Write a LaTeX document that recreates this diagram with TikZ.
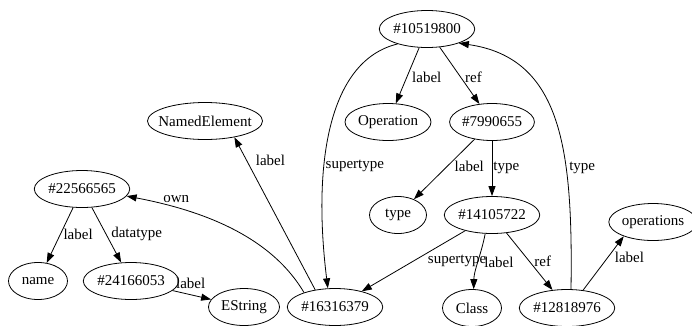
\documentclass[tikz,border=0pt]{standalone}
\usepackage{fontspec}
\setmainfont{Liberation Serif}
\usepackage{tikz}
\usetikzlibrary{arrows.meta,shapes.geometric}

\begin{document}
\begin{tikzpicture}[x=1pt,y=-1pt,line width=0.8pt,
		obj/.style={draw,ellipse,inner xsep=0pt,minimum height=37pt,font=\fontsize{15pt}{17pt}\selectfont},
		lbl/.style={font=\fontsize{15pt}{17pt}\selectfont,inner sep=2pt},
		>={Triangle[length=10pt,width=7pt]}]
		\useasboundingbox (0,0) rectangle (692,325);

		% objects
		\node[obj,minimum width=94pt] (n10519800) at (427,29) {\#10519800};
		\node[obj,minimum width=115pt,inner xsep=-6pt] (namedelement) at (205,121) {NamedElement};
		\node[obj,minimum width=86pt] (operation) at (388,122) {Operation};
		\node[obj,minimum width=83pt] (n7990655) at (492,122) {\#7990655};
		\node[obj,minimum width=88pt] (n22566565) at (82,189) {\#22566565};
		\node[obj,minimum width=57pt] (type) at (398,215) {type};
		\node[obj,minimum width=91pt] (n14105722) at (492,215) {\#14105722};
		\node[obj,minimum width=82pt] (operations) at (653,222) {operations};
		\node[obj,minimum width=59pt] (name) at (38,281) {name};
		\node[obj,minimum width=91pt] (n24166053) at (131,281) {\#24166053};
		\node[obj,minimum width=71pt] (estring) at (244,307) {EString};
		\node[obj,minimum width=94pt] (n16316379) at (335,307) {\#16316379};
		\node[obj,minimum width=59pt] (class) at (472,308) {Class};
		\node[obj,minimum width=93pt] (n12818976) at (567,308) {\#12818976};

		% links
		\draw[->] (n10519800) -- node[lbl,right,pos=0.53,xshift=3pt] {label} (operation);
		\draw[->] (n10519800) -- node[lbl,right,pos=0.53,xshift=2pt] {ref} (n7990655);
		\draw[->] (n10519800.207) .. controls (330,60) and (312,160) .. node[lbl,right,pos=0.65,xshift=-1pt] {supertype} (n16316379.111);
		\draw[->] (n7990655) -- node[lbl,right,pos=0.45,xshift=5pt] {label} (type);
		\draw[->] (n7990655) -- node[lbl,right,pos=0.48,xshift=-1pt] {type} (n14105722);
		\draw[->] (n12818976.78) .. controls (573,150) and (562,58) .. node[lbl,right,pos=0.33,xshift=1pt] {type} (n10519800.336);
		\draw[->] (n14105722) -- node[lbl,right,pos=0.49,xshift=11pt] {supertype} (n16316379);
		\draw[->] (n14105722.250) .. controls (481,255) and (474,270) .. node[lbl,right,pos=0.5,xshift=4pt] {label} (class.85);
		\draw[->] (n14105722) -- node[lbl,right,pos=0.49,xshift=3pt] {ref} (n12818976);
		\draw[->] (n12818976.48) -- node[lbl,right,pos=0.6,xshift=5pt] {label} (operations.206);
		\draw[->] (n16316379.139) -- node[lbl,right,pos=0.85,xshift=7pt] {label} (namedelement.331);
		\draw[->] (n16316379.155) .. controls (270,235) and (200,210) .. node[lbl,above,pos=0.77,yshift=3pt] {own} (n22566565.351);
		\draw[->] (n22566565) -- node[lbl,right,pos=0.49,xshift=1pt] {label} (name);
		\draw[->] (n22566565) -- node[lbl,right,pos=0.48,xshift=3pt] {datatype} (n24166053);
		\draw[->] (n24166053) -- node[lbl,above,pos=0.47,yshift=4pt] {label} (estring);
\end{tikzpicture}
\end{document}
